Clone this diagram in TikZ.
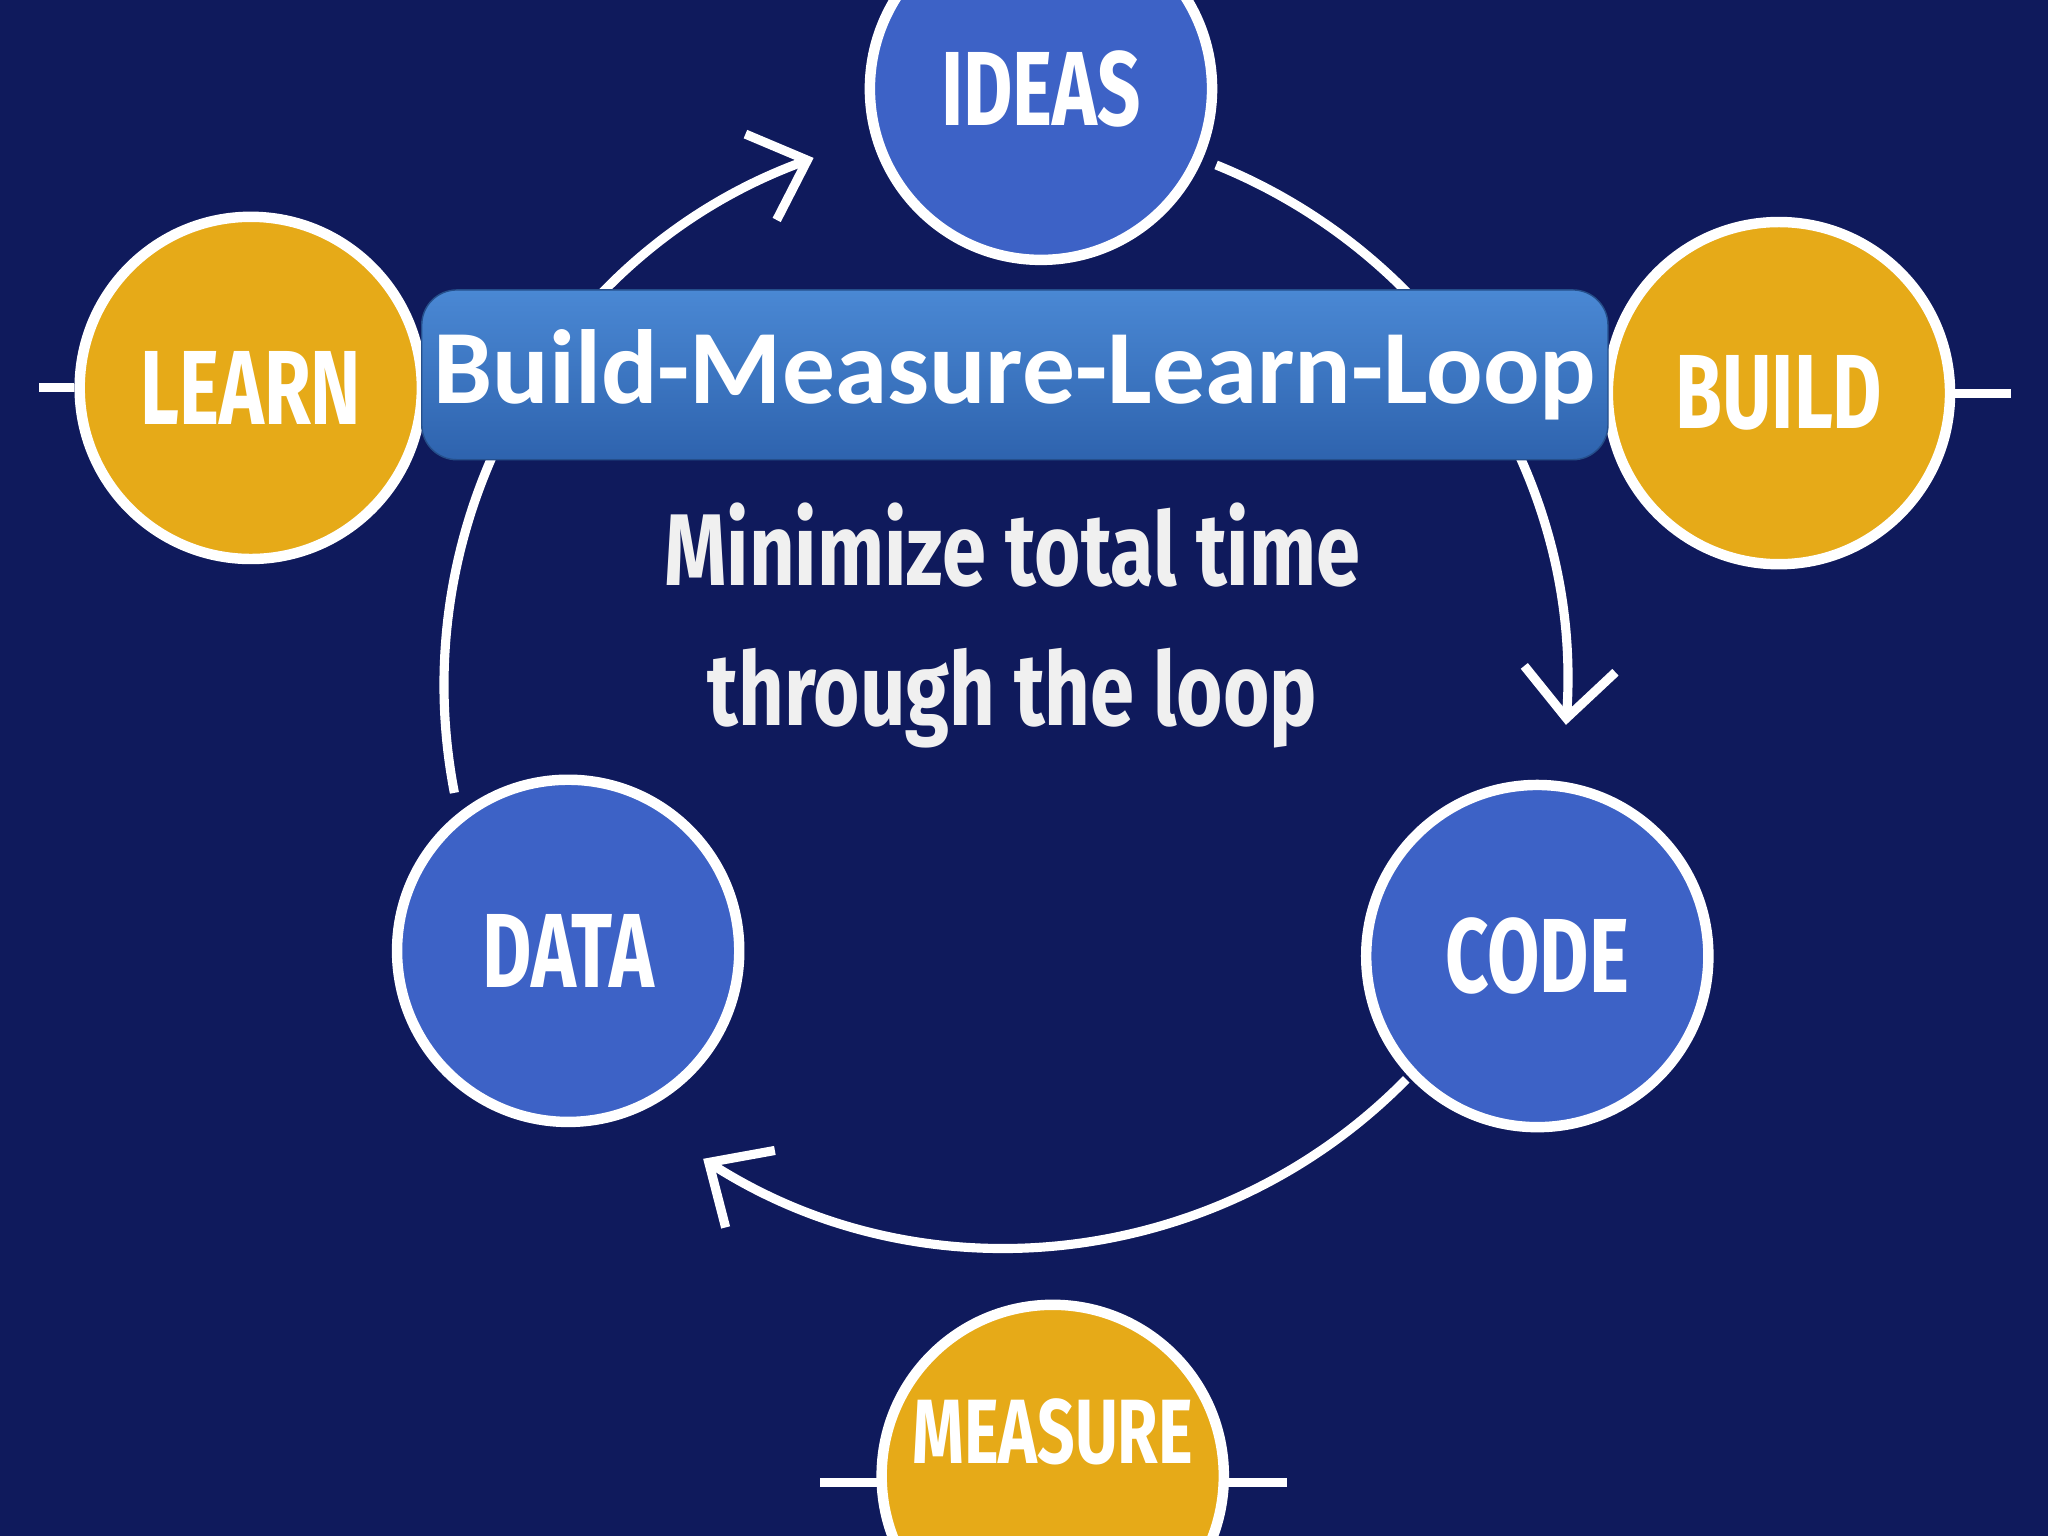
\documentclass[tikz,border=0pt]{standalone}
\usepackage{fontspec}
\setmainfont{Fira Sans}
\newfontfamily\titlefont{Carlito}
\definecolor{bg}{HTML}{0F1A5C}
\definecolor{cblue}{HTML}{3D62C6}
\definecolor{cyel}{HTML}{E6AA18}
\definecolor{tb1}{HTML}{4A88D4}
\definecolor{tb2}{HTML}{2E63AE}
\usetikzlibrary{arrows.meta,calc}
\begin{document}
\begin{tikzpicture}[x=0.01306cm,y=0.01306cm,
  bub/.style={circle,draw=white,line width=8*0.01306cm,minimum size=262*0.01306cm,inner sep=0pt,
    text=white,font=\fontsize{30}{30}\selectfont\bfseries},
  blu/.style={bub,fill=cblue},
  yel/.style={bub,fill=cyel},
  loopline/.style={white,line width=7*0.01306cm},
  tipline/.style={loopline,-{Straight Barb[length=14pt,width=26pt,line width=7*0.01306cm]}},
  tick/.style={white,line width=7*0.01306cm}]
\fill[bg] (0,0) rectangle (1568,1176);
\useasboundingbox (0,0) rectangle (1568,1176);
\coordinate (c) at (770,651);
\draw[tipline] ($(c)+(68:430)$) arc[start angle=68,end angle=-4,radius=430];
\draw[tipline] ($(c)+(-44.5:430)$) arc[start angle=-44.5,end angle=-122.6,radius=430];
\draw[tipline] ($(c)+(191:430)$) arc[start angle=191,end angle=110,radius=430];
\node[blu] (ideas) at (797,1108) {\scalebox{0.72}[1]{IDEAS}};
\node[blu] (data) at (435,448) {\scalebox{0.72}[1]{DATA}};
\node[blu] (code) at (1177,444) {\scalebox{0.72}[1]{CODE}};
\node[yel] (learn) at (192,879) {\scalebox{0.72}[1]{LEARN}};
\node[yel] (build) at (1362,875) {\scalebox{0.72}[1]{BUILD}};
\node[yel] (measure) at (806,46) {\raisebox{0.9cm}{\scalebox{0.72}[1]{\fontsize{26}{26}\selectfont MEASURE}}};
\coordinate (l1) at (30,879); \draw[tick] (l1) -- (learn.west);
\coordinate (b1) at (1540,875); \draw[tick] (build.east) -- (b1);
\coordinate (m1) at (628,41); \coordinate (m2) at (985,41);
\draw[tick] (m1) -- ++(50,0); \draw[tick] (m2) -- ++(-50,0);
\node[rounded corners=10pt,top color=tb1,bottom color=tb2,draw=tb2!80!black,
  minimum width=822*0.01306cm,minimum height=130*0.01306cm,text=white,
  font=\titlefont\fontsize{30}{30}\selectfont\bfseries] (title) at (777,889) {Build-Measure-Learn-Loop};
\node[text=white!88!gray,align=center,font=\fontsize{29}{40}\selectfont\bfseries] (mid) at (775,697)
  {\scalebox{0.78}[1]{Minimize total time}\\\scalebox{0.78}[1]{through the loop}};
\end{tikzpicture}
\end{document}
